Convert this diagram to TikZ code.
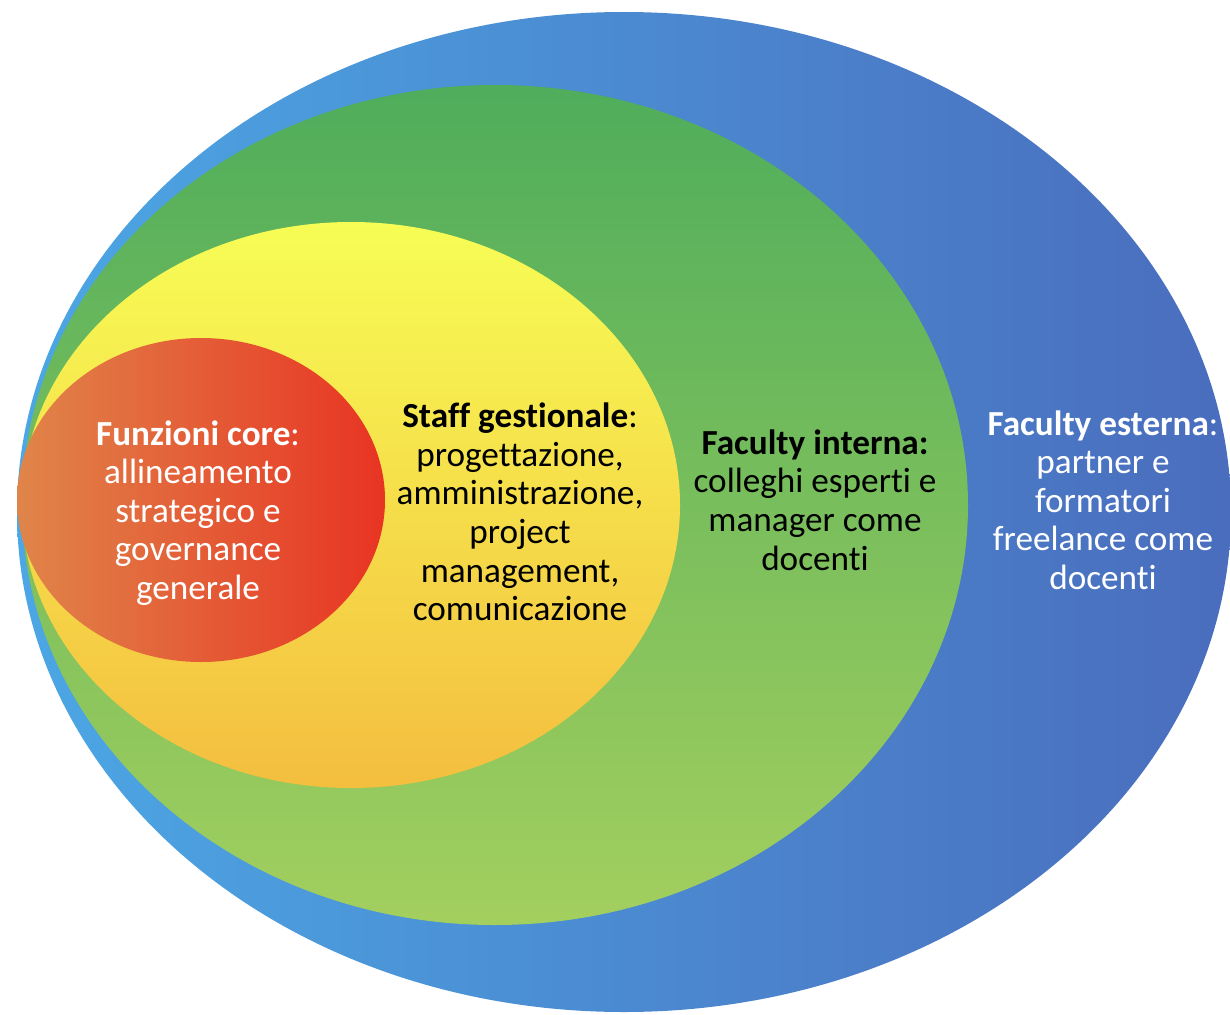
\documentclass[tikz,border=0pt]{standalone}
\usepackage{fontspec}
\setmainfont{Carlito}[Ligatures=NoCommon]
\definecolor{blueL}{HTML}{4CA7E4}
\definecolor{blueR}{HTML}{4A6DBD}
\definecolor{greenT}{HTML}{4FAD5B}
\definecolor{greenB}{HTML}{A3CF5E}
\definecolor{yellowT}{HTML}{F7FD55}
\definecolor{yellowB}{HTML}{F4BE3F}
\definecolor{redL}{HTML}{E0854A}
\definecolor{redR}{HTML}{E83423}
\begin{document}
\begin{tikzpicture}[x=1pt,y=-1pt,
  txt/.style={align=center,font=\fontsize{35.2}{38.6}\selectfont,inner sep=0pt}]
\useasboundingbox (0,0) rectangle (1230,1014);
\shade[left color=blueL,right color=blueR] (624,512) ellipse [x radius=607, y radius=500];
\shade[top color=greenT,bottom color=greenB] (495,505) ellipse [x radius=473, y radius=420];
\shade[top color=yellowT,bottom color=yellowB] (351,505) ellipse [x radius=329, y radius=283];
\shade[left color=redL,right color=redR] (201,500) ellipse [x radius=184, y radius=162];
\node[txt,text=white] (core) at (198,513) {\textbf{Funzioni core}:\\allineamento\\strategico e\\governance\\generale};
\node[txt] (staff) at (520,512) {\textbf{Staff gestionale}:\\progettazione,\\amministrazione,\\project\\management,\\comunicazione};
\node[txt] (int) at (815,500) {\textbf{Faculty interna:}\\colleghi esperti e\\manager come\\docenti};
\node[txt,text=white] (ext) at (1103,500) {\textbf{Faculty esterna}:\\partner e\\formatori\\freelance come\\docenti};
\end{tikzpicture}
\end{document}
